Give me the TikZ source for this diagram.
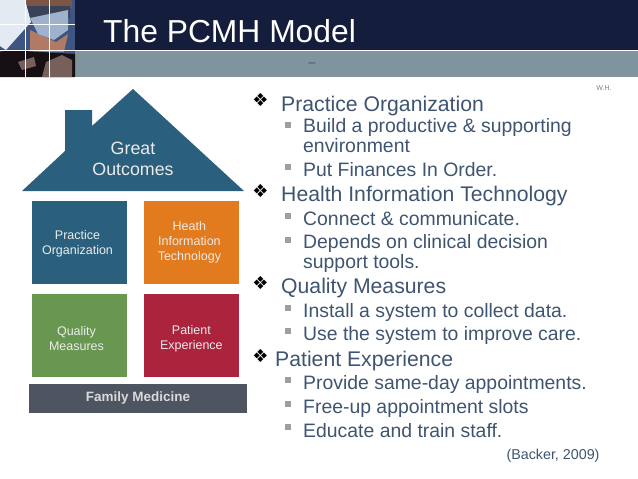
\documentclass[tikz,border=0pt]{standalone}
\usepackage{fontspec}
\setmainfont{Liberation Sans}
\newfontfamily\symfont{DejaVu Sans}
\usepackage{xcolor}
\definecolor{pcmhNavy}{RGB}{20,30,60}
\definecolor{pcmhBand}{RGB}{127,148,156}
\definecolor{pcmhTeal}{RGB}{42,96,125}
\definecolor{pcmhOrange}{RGB}{226,122,30}
\definecolor{pcmhGreen}{RGB}{104,152,80}
\definecolor{pcmhRed}{RGB}{172,35,62}
\definecolor{pcmhSlate}{RGB}{78,84,96}
\definecolor{pcmhText}{RGB}{62,84,112}
\definecolor{photoBlue}{RGB}{62,84,130}
\definecolor{photoPaper}{RGB}{228,234,242}
\definecolor{photoMask}{RGB}{158,178,204}
\definecolor{photoCap}{RGB}{58,66,88}
\definecolor{photoSkin}{RGB}{176,122,100}
\definecolor{photoHand}{RGB}{118,96,92}
\definecolor{photoDark}{RGB}{22,16,20}
\usetikzlibrary{positioning}
\tikzstyle{tile} = [minimum width=95.5pt, minimum height=83pt, inner sep=0pt]
\tikzstyle{tiletext} = [align=center, inner sep=0pt, text=white!92!black, font=\fontsize{12.5}{15}\selectfont]
\tikzstyle{head} = [anchor=base west, inner sep=0pt, text=pcmhText, font=\fontsize{21.2}{22}\selectfont]
\tikzstyle{item} = [anchor=base west, inner sep=0pt, text=pcmhText, align=left, font=\fontsize{19.4}{18}\selectfont]
\tikzstyle{bullet} = [anchor=center, inner sep=0pt, text=black, font=\symfont\fontsize{18}{18}\selectfont]
\tikzstyle{dot} = [fill=black!38, inner sep=0pt, minimum size=5.5pt]
\begin{document}
\begin{tikzpicture}[x=1pt, y=-1pt]
        \useasboundingbox (0,0) rectangle (638,479);
        % Header
        \fill [pcmhNavy] (75,0) rectangle (638,50);
        \fill [pcmhBand] (75,51) rectangle (638,77);
        \node [anchor=base west, inner sep=0pt, text=white, font=\fontsize{31.8}{32}\selectfont] (title) at (103,42) {The PCMH Model};
        \node [anchor=base, inner sep=0pt, text=pcmhNavy!80, font=\fontsize{12}{12}\selectfont] (dash) at (312,66) {--};

        % Photo
        \fill [photoBlue] (0,0) rectangle (75,77);
        \fill [photoSkin!70!black] (26,0) rectangle (72,8);
        \fill [photoCap] (26,6) rectangle (70,18);
        \fill [photoSkin] (30,30) -- (56,42) -- (68,34) -- (64,52) -- (30,52) -- cycle;
        \fill [photoMask] (30,18) -- (68,10) -- (68,30) -- (54,40) -- (38,34) -- cycle;
        \fill [photoPaper] (0,0) -- (25,0) -- (31,22) -- (6,50) -- (0,46) -- cycle;
        \fill [photoDark] (0,52) -- (8,50) -- (75,54) -- (75,77) -- (0,77) -- cycle;
        \fill [photoHand] (46,62) -- (62,55) -- (72,60) -- (72,77) -- (42,77) -- cycle;
        \fill [photoHand] (18,62) -- (34,57) -- (36,66) -- (22,70) -- cycle;
        \draw [white, line width=0.8pt] (25.5,0) -- (25.5,77) (49.5,0) -- (49.5,77) (0,24.5) -- (75,24.5) (0,50.5) -- (638,50.5);

        % House
        \fill [pcmhTeal] (133,89) -- (244,191) -- (22,191) -- (65,151) -- (65,110) -- (92,110) -- (92,126) -- cycle;
        \node [align=center, inner sep=0pt, text=white!92!black, font=\fontsize{17.8}{21}\selectfont] (roof) at (133,159) {Great\\Outcomes};

        % Tiles
        \node [tile, fill=pcmhTeal, label={[tiletext, xshift=-2pt, yshift=-1pt]center:Practice\\Organization}] (po) at (79.5,242.5) {};
        \node [tile, fill=pcmhOrange, right=16pt of po, label={[tiletext, xshift=-2pt]center:Heath\\Information\\Technology}] (hit) {};
        \node [tile, fill=pcmhGreen, below=10pt of po, label={[tiletext, xshift=-3pt, yshift=-3pt]center:Quality\\Measures}] (qm) {};
        \node [tile, fill=pcmhRed, right=16pt of qm, label={[tiletext, yshift=-3pt]center:Patient\\Experience}] (pe) {};
        \node [fill=pcmhSlate, minimum width=218pt, minimum height=29pt, inner sep=0pt, text=white!85!black, font=\bfseries\fontsize{13.5}{15}\selectfont] (fm) at (138,398.5) {Family Medicine};

        % Text
        \node [anchor=base, inner sep=0pt, text=black!50, font=\fontsize{7}{8}\selectfont] (wh) at (604,90) {W.H.};

        \node [bullet] (m1) at (260.5,100) {❖};
        \node [head] (h1) at (281,111) {Practice Organization};
        \node [dot] (d1) at (288,125) {};
        \node [item] (i1) at (303,152) {Build a productive \& supporting\\environment};
        \node [dot] (d2) at (288,167) {};
        \node [item] (i2) at (303,176) {Put Finances In Order.};

        \node [bullet] (m2) at (260.5,191) {❖};
        \node [head] (h2) at (281,201) {Health Information Technology};
        \node [dot] (d3) at (288,216) {};
        \node [item] (i3) at (303,225) {Connect \& communicate.};
        \node [dot] (d4) at (288,240) {};
        \node [item] (i4) at (303,268) {Depends on clinical decision\\support tools.};

        \node [bullet] (m3) at (260.5,283) {❖};
        \node [head] (h3) at (281,293) {Quality Measures};
        \node [dot] (d5) at (288,308) {};
        \node [item] (i5) at (303,317) {Install a system to collect data.};
        \node [dot] (d6) at (288,331) {};
        \node [item] (i6) at (303,340) {Use the system to improve care.};

        \node [bullet] (m4) at (260.5,356) {❖};
        \node [head] (h4) at (275,366) {Patient Experience};
        \node [dot] (d7) at (288,380) {};
        \node [item] (i7) at (303,389) {Provide same-day appointments.};
        \node [dot] (d8) at (288,404) {};
        \node [item] (i8) at (303,413) {Free-up appointment slots};
        \node [dot] (d9) at (288,427) {};
        \node [item] (i9) at (303,437) {Educate and train staff.};

        \node [anchor=base, inner sep=0pt, text=pcmhText, font=\fontsize{14.3}{15}\selectfont] (cite) at (553,459) {(Backer, 2009)};
\end{tikzpicture}
\end{document}
